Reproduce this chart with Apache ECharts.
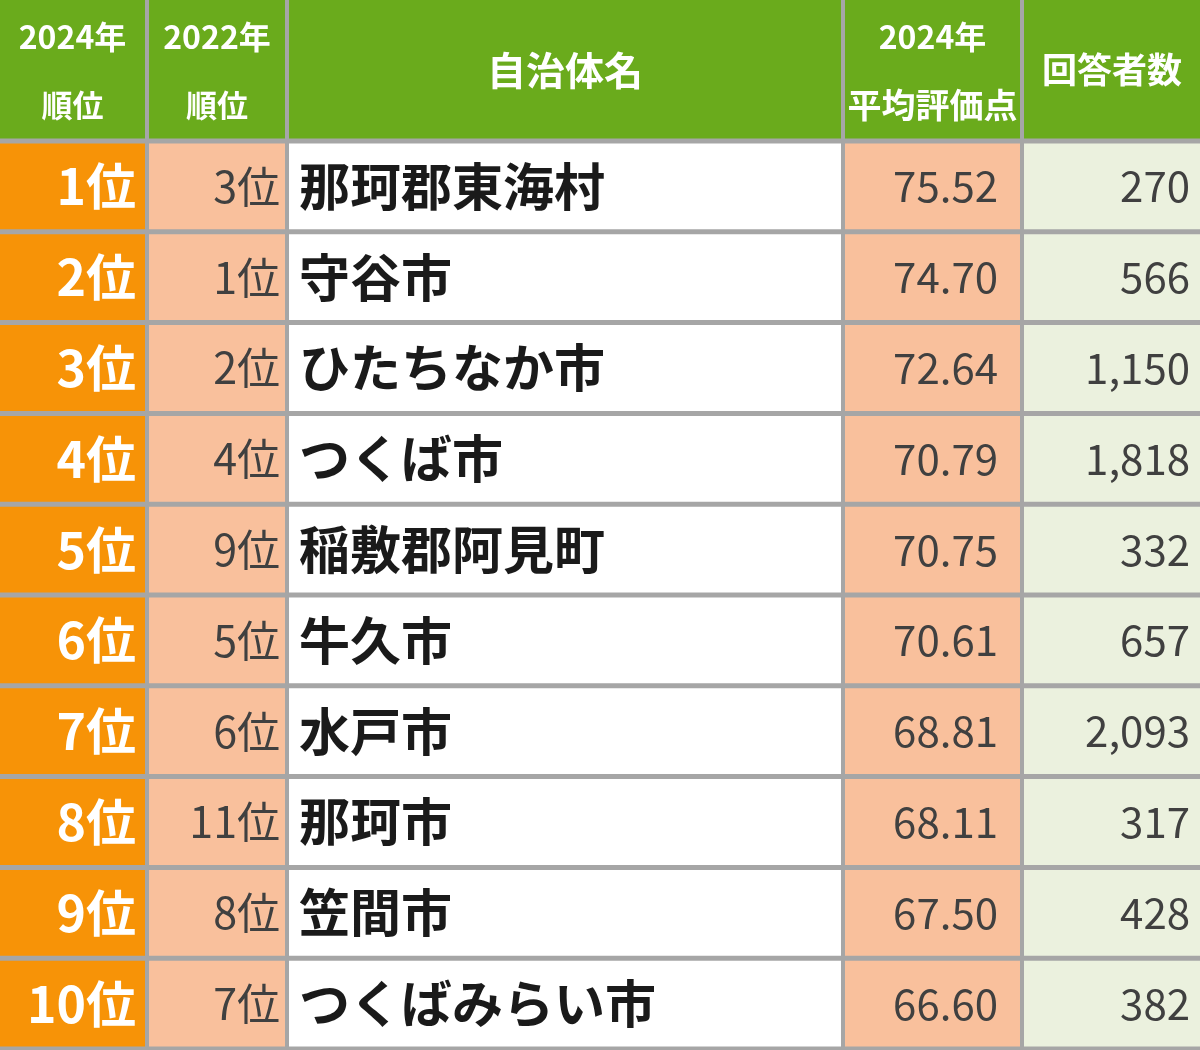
<!DOCTYPE html><html><head><meta charset="utf-8">
<script src="https://cdn.jsdelivr.net/npm/echarts@6/dist/echarts.min.js"></script>
<style>html,body{margin:0;padding:0;background:#fff}#c{width:1200px;height:1050px}</style></head><body><div id="c"></div>
<script>
const rank2024 = ['1位','2位','3位','4位','5位','6位','7位','8位','9位','10位'];
const rank2022 = ['3位','1位','2位','4位','9位','5位','6位','11位','8位','7位'];
const names = ['那珂郡東海村','守谷市','ひたちなか市','つくば市','稲敷郡阿見町','牛久市','水戸市','那珂市','笠間市','つくばみらい市'];
const scores = ['75.52','74.70','72.64','70.79','70.75','70.61','68.81','68.11','67.50','66.60'];
const respondents = ['270','566','1,150','1,818','332','657','2,093','317','428','382'];
const headers = [['2024年','順位'],['2022年','順位'],['自治体名'],['2024年','平均評価点'],['回答者数']];

// layout
const colEdges = [0,147,287,843,1022,1200];
const headerH = 141, rowH = 90.8;
const fills = ['#f79307','#f9c09c','#ffffff','#f9c09c','#ebf1de'];
const font = '"Noto Sans CJK JP", sans-serif';

const cells = [];
headers.forEach((h,c)=>cells.push({value:[c,-1],txt:h}));
for(let r=0;r<names.length;r++){
  [rank2024[r],rank2022[r],names[r],scores[r],respondents[r]].forEach((t,c)=>cells.push({value:[c,r],txt:t}));
}
function rowTop(r){return r<0?0:headerH+r*rowH;}
function rowBot(r){return r<0?headerH:headerH+(r+1)*rowH;}
const chart = echarts.init(document.getElementById('c'));
chart.setOption({
  backgroundColor:'#a6a6a6',
  animation:false,
  grid:{left:0,right:0,top:0,bottom:0},
  xAxis:{type:'value',min:0,max:1200,show:false},
  yAxis:{type:'value',min:0,max:1050,inverse:true,show:false},
  series:[{type:'custom',data:cells,renderItem:function(params,api){
    const c=api.value(0), r=api.value(1);
    const item=cells[params.dataIndex];
    const p0=api.coord([colEdges[c],rowTop(r)]), p1=api.coord([colEdges[c+1],rowBot(r)]);
    const gx=2, gy=2.5;
    const x0=p0[0]+(c===0?0:gx), x1=p1[0]-(c===4?0:gx);
    const y0=p0[1]+(r<0?0:gy), y1=p1[1]-gy;
    const children=[{type:'rect',shape:{x:x0,y:y0,width:x1-x0,height:y1-y0},style:{fill:r<0?'#6aab1c':fills[c]}}];
    const cy=(y0+y1)/2;
    if(r<0){
      const t=item.txt;
      const f2=(c===3?'bold 34px ':'bold 31px ')+font;
      if(t.length===2){
        children.push({type:'text',style:{text:t[0],x:(x0+x1)/2,y:37,align:'center',verticalAlign:'middle',font:'bold 32px '+font,fill:'#fff'}});
        children.push({type:'text',style:{text:t[1],x:(x0+x1)/2,y:105,align:'center',verticalAlign:'middle',font:f2,fill:'#fff'}});
      } else children.push({type:'text',style:{text:t[0],x:(x0+x1)/2,y:70,align:'center',verticalAlign:'middle',font:(c===2?'bold 39px ':'bold 35px ')+font,fill:'#fff'}});
    } else {
      const cfg=[
        {x:x1-9,align:'right',font:'bold 50px '+font,fill:'#fff'},
        {x:x1-5,align:'right',font:'43px '+font,fill:'#404040'},
        {x:x0+10,align:'left',font:'bold 51px '+font,fill:'#1a1a1a'},
        {x:x1-22,align:'right',font:'42px '+font,fill:'#404040'},
        {x:x1-10,align:'right',font:'42px '+font,fill:'#404040'}][c];
      children.push({type:'text',style:{text:item.txt,x:cfg.x,y:cy,align:cfg.align,verticalAlign:'middle',font:cfg.font,fill:cfg.fill}});
    }
    return {type:'group',children};
  }}]
});
</script></body></html>
